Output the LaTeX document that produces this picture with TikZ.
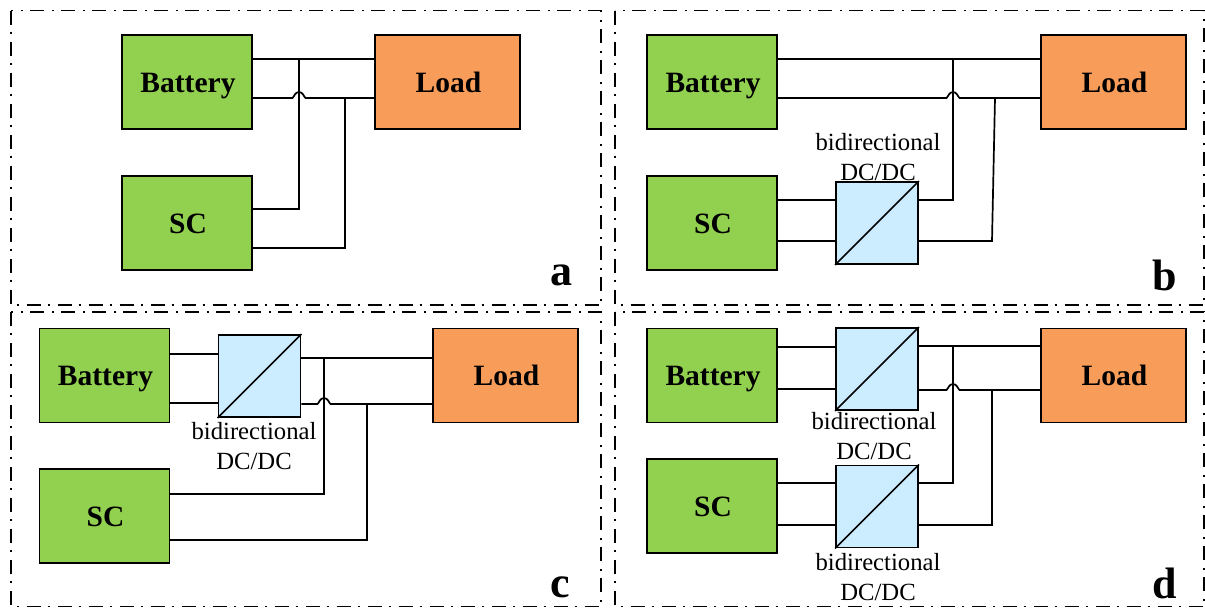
\documentclass[tikz,border=0pt]{standalone}
\usepackage{fontspec}
\setmainfont{Liberation Serif}
\newcommand\hopat[2]{-- ({#1-6.5},{#2}) .. controls ({#1-5},{#2+1}) and ({#1-4},{#2+6}) .. ({#1},{#2+6}) .. controls ({#1+4},{#2+6}) and ({#1+5},{#2+1}) .. ({#1+6.5},{#2})}
\definecolor{boxgreen}{HTML}{92D050}
\definecolor{boxorange}{HTML}{F79D59}
\definecolor{boxblue}{HTML}{CCECFF}
\tikzset{
  x=1pt,y=1pt,
  wire/.style={line width=1.7pt,black,line join=miter},
  panelframe/.style={line width=1.6pt,black,dash pattern=on 14pt off 7pt on 2pt off 8pt},
  blockbase/.style={draw=black,line width=1.8pt,inner sep=0pt,text height=20pt,text depth=0pt,font=\fontsize{29.5}{32}\selectfont\bfseries,execute at begin node=\hspace*{2pt}},
  srcbox/.style={blockbase,fill=boxgreen,minimum width=130pt,minimum height=94pt},
  loadbox/.style={blockbase,fill=boxorange,minimum width=145pt,minimum height=94pt},
  convbox/.style={draw=black,line width=1.8pt,fill=boxblue,minimum width=82pt,minimum height=82pt,inner sep=0pt},
  convlabel/.style={align=center,inner sep=0pt,font=\fontsize{24.7}{30}\selectfont},
  panelletter/.style={inner sep=0pt,font=\fontsize{44}{44}\selectfont\bfseries}
}
\begin{document}
\begin{tikzpicture}
\useasboundingbox (0,-608) rectangle (1205,0);
% panel frames
\draw[panelframe] (11,-10.5) rectangle (601,-305);
\draw[panelframe] (615,-10.5) rectangle (1204,-305);
\draw[panelframe] (11,-312) rectangle (601,-606.5);
\draw[panelframe] (615,-312) rectangle (1204,-606.5);
% ---------- panel a
\node[srcbox] (aB) at (187,-82) {Battery};
\node[srcbox] (aS) at (187,-223) {SC};
\node[loadbox] (aL) at (447.5,-82) {Load};
\coordinate (aJ1) at (299,-59);
\coordinate (aJ2) at (345,-98);
\draw[wire] (aB.east |- aJ1) -- (aL.west |- aJ1);
\draw[wire] (aB.east |- aJ2) \hopat{299}{-98} -- (aL.west |- aJ2);
\draw[wire] (aJ1) -- (299,-209) -- (aS.east |- 0,-209);
\draw[wire] (aJ2) -- (345,-248) -- (aS.east |- 0,-248);
\node[panelletter] (aT) at (561,-275) {a};
% ---------- panel b
\node[srcbox] (bB) at (712,-82) {Battery};
\node[srcbox] (bS) at (712,-223) {SC};
\node[loadbox] (bL) at (1113.5,-82) {Load};
\node[convbox] (bC) at (877,-223) {};
\draw[wire] (bC.south west) -- (bC.north east);
\coordinate (bJ1) at (953,-59);
\coordinate (bJ2) at (995,-98);
\draw[wire] (bB.east |- bJ1) -- (bL.west |- bJ1);
\draw[wire] (bB.east |- bJ2) \hopat{953}{-98} -- (bL.west |- bJ2);
\draw[wire] (bS.east |- 0,-200) -- (bC.west |- 0,-200);
\draw[wire] (bS.east |- 0,-241) -- (bC.west |- 0,-241);
\draw[wire] (bJ1) -- (953,-200) -- (bC.east |- 0,-200);
\draw[wire] (bJ2) -- (992,-241) -- (bC.east |- 0,-241);
\node[convlabel] (bD) at (878,-157) {bidirectional\\DC/DC};
\node[panelletter] (bT) at (1165,-275) {b};
% ---------- panel c
\node[srcbox] (cB) at (104.5,-375.5) {Battery};
\node[srcbox] (cS) at (104.5,-516) {SC};
\node[loadbox] (cL) at (505.5,-375.5) {Load};
\node[convbox] (cC) at (259.5,-376) {};
\draw[wire] (cC.south west) -- (cC.north east);
\coordinate (cJ1) at (324,-358);
\coordinate (cJ2) at (367,-404);
\draw[wire] (cB.east |- 0,-354) -- (cC.west |- 0,-354);
\draw[wire] (cB.east |- 0,-403) -- (cC.west |- 0,-403);
\draw[wire] (cC.east |- cJ1) -- (cL.west |- cJ1);
\draw[wire] (cC.east |- cJ2) \hopat{324}{-404} -- (cL.west |- cJ2);
\draw[wire] (cJ1) -- (324,-494) -- (cS.east |- 0,-494);
\draw[wire] (cJ2) -- (367,-540) -- (cS.east |- 0,-540);
\node[convlabel] (cD) at (254,-446) {bidirectional\\DC/DC};
\node[panelletter] (cT) at (560,-587) {c};
% ---------- panel d
\node[srcbox] (dB) at (712,-375.5) {Battery};
\node[srcbox] (dS) at (712,-506) {SC};
\node[loadbox] (dL) at (1113.5,-375.5) {Load};
\node[convbox] (dC) at (877,-369) {};
\node[convbox] (dE) at (877,-506.5) {};
\draw[wire] (dC.south west) -- (dC.north east);
\draw[wire] (dE.south west) -- (dE.north east);
\coordinate (dJ1) at (953,-346);
\coordinate (dJ2) at (992,-390);
\draw[wire] (dB.east |- 0,-347) -- (dC.west |- 0,-347);
\draw[wire] (dB.east |- 0,-389) -- (dC.west |- 0,-389);
\draw[wire] (dC.east |- dJ1) -- (dL.west |- dJ1);
\draw[wire] (dC.east |- dJ2) \hopat{953}{-390} -- (dL.west |- dJ2);
\draw[wire] (dS.east |- 0,-483) -- (dE.west |- 0,-483);
\draw[wire] (dS.east |- 0,-525) -- (dE.west |- 0,-525);
\draw[wire] (dJ1) -- (953,-483) -- (dE.east |- 0,-483);
\draw[wire] (dJ2) -- (992,-525) -- (dE.east |- 0,-525);
\node[convlabel] (dD) at (874,-436) {bidirectional\\DC/DC};
\node[convlabel] (dF) at (878,-577) {bidirectional\\DC/DC};
\node[panelletter] (dT) at (1165,-583) {d};
\end{tikzpicture}
\end{document}
